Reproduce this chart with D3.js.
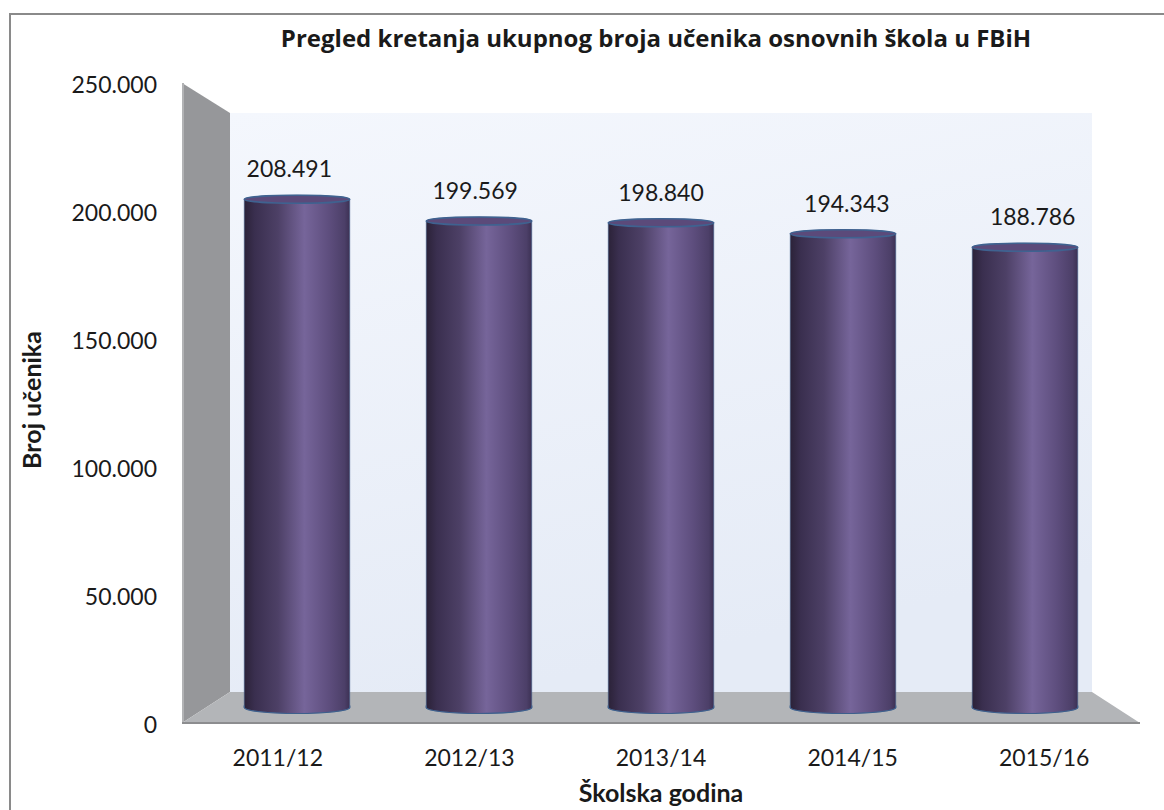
<!DOCTYPE html>
<meta charset="utf-8">
<style>
body { margin: 0; background: #fff; }
text { font-family: Lato, "Open Sans", sans-serif; fill: #1a1a1a; }
.title, .axis-title { font-weight: bold; }
.title { font-family: "Open Sans", Lato, sans-serif; }
</style>
<svg width="1164" height="810"></svg>
<script src="https://d3js.org/d3.v7.min.js"></script>
<script>

var years = ["2011/12", "2012/13", "2013/14", "2014/15", "2015/16"];
var pupils = [208491, 199569, 198840, 194343, 188786];
var yTicks = [0, 50000, 100000, 150000, 200000, 250000];

var svg = d3.select("svg");

var fmt = d3.formatLocale({ decimal: ",", thousands: ".", grouping: [3], currency: ["", ""] }).format(",d");

// perspective box: t = 0 front plane, t = 1 back wall
var front = { x: [182, 1140], y: [723, 83] },
    back = { x: [230, 1092], y: [692, 113] };

function plane(t) {
  var xr = [front.x[0] + (back.x[0] - front.x[0]) * t, front.x[1] + (back.x[1] - front.x[1]) * t],
      yr = [front.y[0] + (back.y[0] - front.y[0]) * t, front.y[1] + (back.y[1] - front.y[1]) * t];
  return {
    x: d3.scaleBand().domain(years).range(xr).paddingInner(0.42).paddingOuter(0.21),
    y: d3.scaleLinear().domain([0, 250000]).range(yr)
  };
}

var pFront = plane(0), pBack = plane(1), pBar = plane(0.5), pLab = plane(0.3);

var defs = svg.append("defs");

var wallGrad = defs.append("linearGradient").attr("id", "wall").attr("x1", 0).attr("y1", 0).attr("x2", 0.3).attr("y2", 1);
wallGrad.append("stop").attr("offset", 0).attr("stop-color", "#f4f7fd");
wallGrad.append("stop").attr("offset", 1).attr("stop-color", "#e5ebf6");

var cyl = defs.append("linearGradient").attr("id", "cyl").attr("x1", 0).attr("x2", 1).attr("y1", 0).attr("y2", 0);
[[0, "#2b2238"], [0.1, "#3a2f4f"], [0.32, "#4d4066"], [0.57, "#76659a"], [0.8, "#5e4e7e"], [0.95, "#4c3f68"], [1, "#3c3154"]]
  .forEach(function(s) { cyl.append("stop").attr("offset", s[0]).attr("stop-color", s[1]); });

// outer frame
svg.append("rect")
    .attr("x", 10).attr("y", 14).attr("width", 1170).attr("height", 820)
    .attr("fill", "none").attr("stroke", "#8a8a8a").attr("stroke-width", 2);

// back wall
var bx = pBack.x.range(), by = pBack.y.range(), fx = pFront.x.range(), fy = pFront.y.range();
svg.append("rect")
    .attr("x", bx[0]).attr("y", by[1]).attr("width", bx[1] - bx[0]).attr("height", by[0] - by[1])
    .attr("fill", "url(#wall)");

// side wall
svg.append("path")
    .attr("d", d3.line()([[fx[0], fy[1]], [fx[0], fy[0]], [bx[0], by[0]], [bx[0], by[1]]]) + "Z")
    .attr("fill", "#96979a");
svg.append("line")
    .attr("x1", fx[0] + 1).attr("x2", fx[0] + 1).attr("y1", fy[1]).attr("y2", fy[0])
    .attr("stroke", "#b2b3b5").attr("stroke-width", 2);

// floor
svg.append("path")
    .attr("d", d3.line()([[fx[0], fy[0]], [bx[0], by[0]], [bx[1], by[0]], [fx[1], fy[0]]]) + "Z")
    .attr("fill", "#b3b5b8");
svg.append("line")
    .attr("x1", fx[0]).attr("x2", fx[1]).attr("y1", fy[0]).attr("y2", fy[0])
    .attr("stroke", "#8c8d8f").attr("stroke-width", 2);

// cylinders
var ryT = 4, ryB = 6;
var bars = svg.append("g").selectAll("g")
  .data(years.map(function(y, i) { return { year: y, value: pupils[i] }; }))
  .enter().append("g");

bars.append("path")
    .attr("fill", "url(#cyl)")
    .attr("stroke", "#4b6a96").attr("stroke-width", 0.8).attr("stroke-opacity", 0.7)
    .attr("d", function(d) {
      var x0 = pBar.x(d.year), w = pBar.x.bandwidth(), yt = pBar.y(d.value), yb = pBar.y(0);
      return "M" + x0 + "," + yt + "L" + x0 + "," + yb +
        "A" + w / 2 + "," + ryB + " 0 0 0 " + (x0 + w) + "," + yb +
        "L" + (x0 + w) + "," + yt +
        "A" + w / 2 + "," + ryT + " 0 0 0 " + x0 + "," + yt + "Z";
    });

bars.append("path")
    .attr("fill", "none").attr("stroke", "#3d5f8c").attr("stroke-width", 1.2)
    .attr("d", function(d) {
      var x0 = pBar.x(d.year), w = pBar.x.bandwidth(), yb = pBar.y(0);
      return "M" + x0 + "," + (yb - 2) + "L" + x0 + "," + yb +
        "A" + w / 2 + "," + ryB + " 0 0 0 " + (x0 + w) + "," + yb + "L" + (x0 + w) + "," + (yb - 2);
    });

bars.append("ellipse")
    .attr("cx", function(d) { return pBar.x(d.year) + pBar.x.bandwidth() / 2; })
    .attr("cy", function(d) { return pBar.y(d.value); })
    .attr("rx", pBar.x.bandwidth() / 2)
    .attr("ry", ryT)
    .attr("fill", "#5b4a7a")
    .attr("stroke", "#3f6290").attr("stroke-width", 1.6);

// data labels
bars.append("text")
    .attr("x", function(d) { return pLab.x(d.year) + pLab.x.bandwidth() / 2; })
    .attr("y", function(d) { return pBar.y(d.value) - 22; })
    .attr("text-anchor", "middle")
    .style("font-size", "23px")
    .text(function(d) { return fmt(d.value); });

// y axis labels (front plane)
svg.append("g").selectAll("text")
  .data(yTicks)
  .enter().append("text")
    .attr("x", 157)
    .attr("y", function(d) { return pFront.y(d) + 2; })
    .attr("dy", "0.36em")
    .attr("text-anchor", "end")
    .style("font-size", "23px")
    .text(function(d) { return fmt(d); });

// x axis labels (front plane)
svg.append("g").selectAll("text")
  .data(years)
  .enter().append("text")
    .attr("x", function(d) { return pFront.x(d) + pFront.x.bandwidth() / 2; })
    .attr("y", 766)
    .attr("text-anchor", "middle")
    .style("font-size", "23px")
    .text(function(d) { return d; });

svg.append("text")
    .attr("class", "title")
    .attr("x", 656).attr("y", 47)
    .attr("text-anchor", "middle")
    .style("font-size", "24px")
    .text("Pregled kretanja ukupnog broja učenika osnovnih škola u FBiH");

svg.append("text")
    .attr("class", "axis-title")
    .attr("x", 661).attr("y", 802)
    .attr("text-anchor", "middle")
    .style("font-size", "25px")
    .text("Školska godina");

svg.append("text")
    .attr("class", "axis-title")
    .attr("transform", "translate(41,400) rotate(-90)")
    .attr("text-anchor", "middle")
    .style("font-size", "25px")
    .text("Broj učenika");

</script>
